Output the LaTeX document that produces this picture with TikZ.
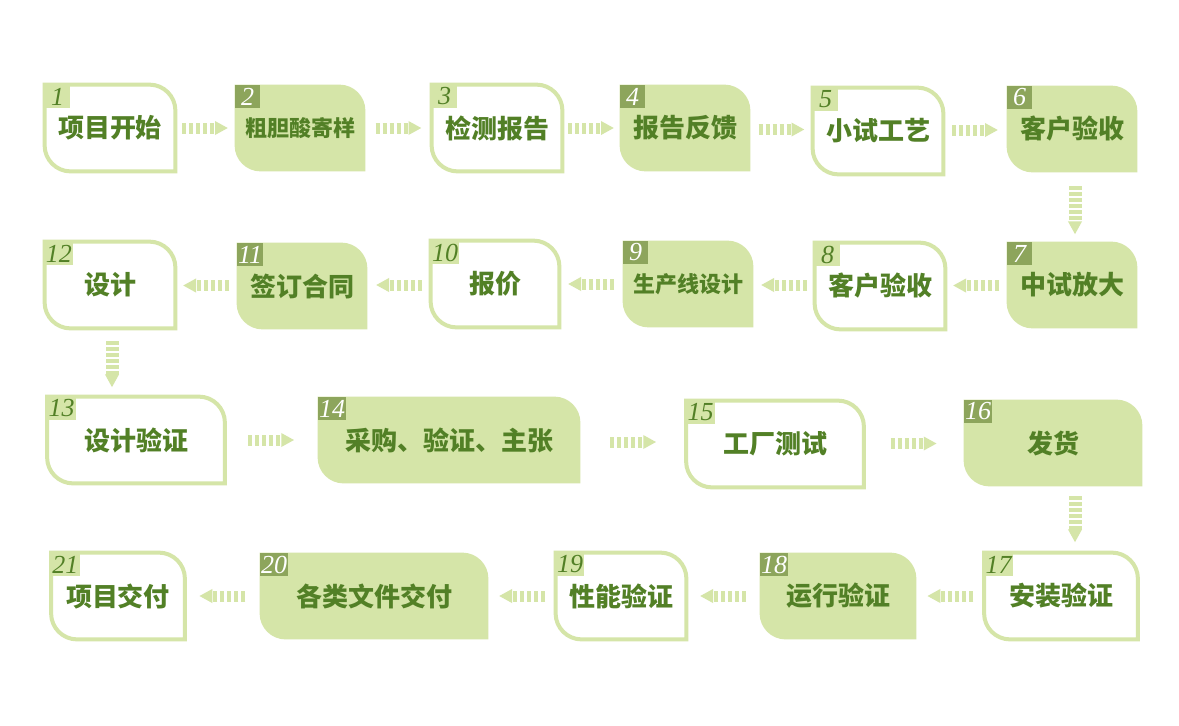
\documentclass[tikz,border=0pt]{standalone}
\usepackage{fontspec}
\usepackage{tikz}
\usetikzlibrary{arrows.meta,calc,backgrounds}
\newfontfamily\cjk{Noto Sans CJK SC}
\newfontfamily\numfont{Liberation Serif}
\definecolor{boxgreen}{RGB}{213,229,168}
\definecolor{tagdark}{RGB}{141,165,92}
\definecolor{textgreen}{RGB}{82,128,38}
\tikzstyle{stage} = [minimum height=43pt, inner sep=0pt, text=textgreen, font=\cjk\bfseries\fontsize{13}{13}\selectfont]
\tikzstyle{small} = [stage, font=\cjk\bfseries\fontsize{11}{11}\selectfont]
\tikzstyle{tag} = [anchor=north west, inner sep=0.5pt, minimum width=12.5pt, minimum height=11.5pt, font=\numfont\itshape\fontsize{13}{13}\selectfont]
\tikzstyle{tagoff} = [tag, fill=boxgreen, text=textgreen]
\tikzstyle{tagon} = [tag, fill=tagdark, text=white]
\tikzstyle{flow} = [draw=boxgreen, line width=5.5pt, dash pattern=on 2pt off 1.5pt, -{Triangle[length=6.5pt,width=6.5pt]}]
\tikzstyle{flowdown} = [flow, line width=6.5pt, dash pattern=on 1.6pt off 1.4pt]

\begin{document}
\begin{tikzpicture}[x=0.5pt,y=-0.5pt]
		% define constants
		\def \rad {13pt}
		\begin{scope}[on background layer]
		\fill[white] (0,0) rectangle (1179,725);
		\end{scope}
		\useasboundingbox (0,0) rectangle (1179,725);

		% the stages
		\foreach \n/\x/\y/\w/\s/\t in {1/110/128/65pt/stage/项目开始, 2/300/128/65pt/small/粗胆酸寄样,
			3/497/128/65pt/stage/检测报告, 4/685/128/65pt/stage/报告反馈, 5/878/131/65pt/stage/小试工艺,
			6/1072/129/65pt/stage/客户验收, 7/1072/285/65pt/stage/中试放大, 8/880/286/65pt/stage/客户验收,
			9/688/284/65pt/small/生产线设计, 10/495/284/64pt/stage/报价, 11/302/286/65pt/stage/签订合同,
			12/110/285/65pt/stage/设计, 13/136/440/88.5pt/stage/设计验证, 14/449/440/131pt/stage/采购、验证、主张,
			15/775/444/88.5pt/stage/工厂测试, 16/1053/443/89pt/stage/发货, 17/1061/596/76.5pt/stage/安装验证,
			18/838/596/78pt/stage/运行验证, 19/621/596/65pt/stage/性能验证, 20/374/596/114pt/stage/各类文件交付,
			21/118/596/66.5pt/stage/项目交付}
			\node[\s, minimum width=\w] (s\n) at (\x,\y) {\t};

		% box outlines
		\begin{scope}[on background layer]
		\foreach \n in {2,4,6,7,9,11,14,16,18,20}
			\fill[boxgreen] (s\n.north west) -- ([xshift=-\rad]s\n.north east) arc[start angle=90,end angle=0,radius=\rad]
				-- (s\n.south east) -- ([xshift=\rad]s\n.south west) arc[start angle=270,end angle=180,radius=\rad] -- cycle;
		\foreach \n in {1,3,5,8,10,12,13,15,17,19,21}
			\draw[boxgreen, line width=2pt] (s\n.north west) -- ([xshift=-\rad]s\n.north east) arc[start angle=90,end angle=0,radius=\rad]
				-- (s\n.south east) -- ([xshift=\rad]s\n.south west) arc[start angle=270,end angle=180,radius=\rad] -- cycle;
		\end{scope}

		% number tags
		\foreach \n in {2,4,6,7,9,11,14,16,18,20}
			\node[tagon] (t\n) at (s\n.north west) {\n};
		\foreach \n in {1,3,5,8,10,12,13,15,17,19,21}
			\node[tagoff] (t\n) at (s\n.north west) {\n};

		% arrows
		\foreach \a/\b in {s1/s2, s2/s3, s3/s4, s4/s5, s5/s6, s13/s14, s14/s15, s15/s16}
			\draw[flow] ($(\a.east)!0.5!(\b.west)+(-11.5pt,0)$) -- ++(23pt,0);
		\foreach \a/\b in {s7/s8, s8/s9, s9/s10, s10/s11, s11/s12, s17/s18, s18/s19, s19/s20, s20/s21}
			\draw[flow] ($(\a.west)!0.5!(\b.east)+(11.5pt,0)$) -- ++(-23pt,0);
		\draw[flowdown] ($(s6.south)+(1.5pt,-7pt)$) -- ++(0,-24pt);
		\draw[flowdown] ($(s12.south)+(1pt,-6.5pt)$) -- ++(0,-23pt);
		\draw[flowdown] ($(s16.south -| s6)+(1.5pt,-5pt)$) -- ++(0,-23pt);
\end{tikzpicture}
\end{document}
